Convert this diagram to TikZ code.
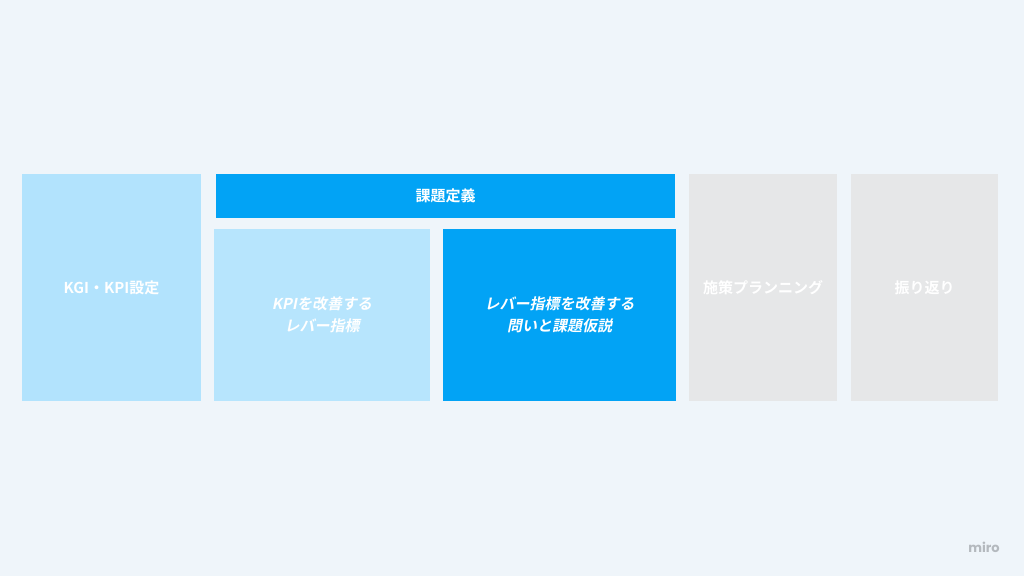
\documentclass[tikz,border=0pt]{standalone}
\usepackage{fontspec}
\usepackage{tikz}
\usepackage{xcolor}
\setmainfont{Noto Sans CJK JP}[
    BoldFont={Noto Sans CJK JP Bold},
    ItalicFeatures={FakeSlant=0.2},
    BoldItalicFont={Noto Sans CJK JP Bold},
    BoldItalicFeatures={FakeSlant=0.2}]
\newfontfamily\logofont{Poppins}
\definecolor{pagecolore}{HTML}{EFF5FA}
\definecolor{deepcolore}{HTML}{02A3F5}
\definecolor{palecolore}{HTML}{B2E3FD}
\definecolor{greycolore}{HTML}{E6E7E8}
\definecolor{logocolore}{HTML}{B4B9BE}
\colorlet{deepcolor}{deepcolore}
\colorlet{palecolor}{palecolore}
\colorlet{greycolor}{greycolore}
\tikzstyle{phasebox} = [
    rectangle,
    inner sep=0pt,
    text=white,
    font=\bfseries\fontsize{15}{21.5}\selectfont,
    align=center
    ]
\tikzstyle{tallbox} = [phasebox, minimum height=227pt]
\tikzstyle{lowbox} = [phasebox, minimum height=172pt]

\begin{document}
\begin{tikzpicture}[x=1pt,y=-1pt]
\useasboundingbox (0,0) rectangle (1024,576);
\fill[pagecolore] (0,0) rectangle (1024,576);
% phases
\node [tallbox, fill=palecolor, minimum width=179pt] (kgi) at (111.5,287.5) {KGI・KPI設定};
\node [phasebox, fill=deepcolor, minimum width=459pt, minimum height=44pt] (define) at (445.5,196) {課題定義};
\node [lowbox, fill=palecolor!93!white, minimum width=216pt] (lever) at (322,315) {\itshape KPIを改善する\\\itshape レバー指標};
\node [lowbox, fill=deepcolor, minimum width=233pt] (issue) at (559.5,315) {\itshape レバー指標を改善する\\\itshape 問いと課題仮説};
\node [tallbox, fill=greycolor, minimum width=148pt] (plan) at (763,287.5) {施策プランニング};
\node [tallbox, fill=greycolor, minimum width=147pt] (review) at (924.5,287.5) {振り返り};
% logo
\node [text=logocolore, font=\logofont\bfseries\fontsize{13}{13}\selectfont] (miro) at (984,547) {miro};
\end{tikzpicture}
\end{document}
